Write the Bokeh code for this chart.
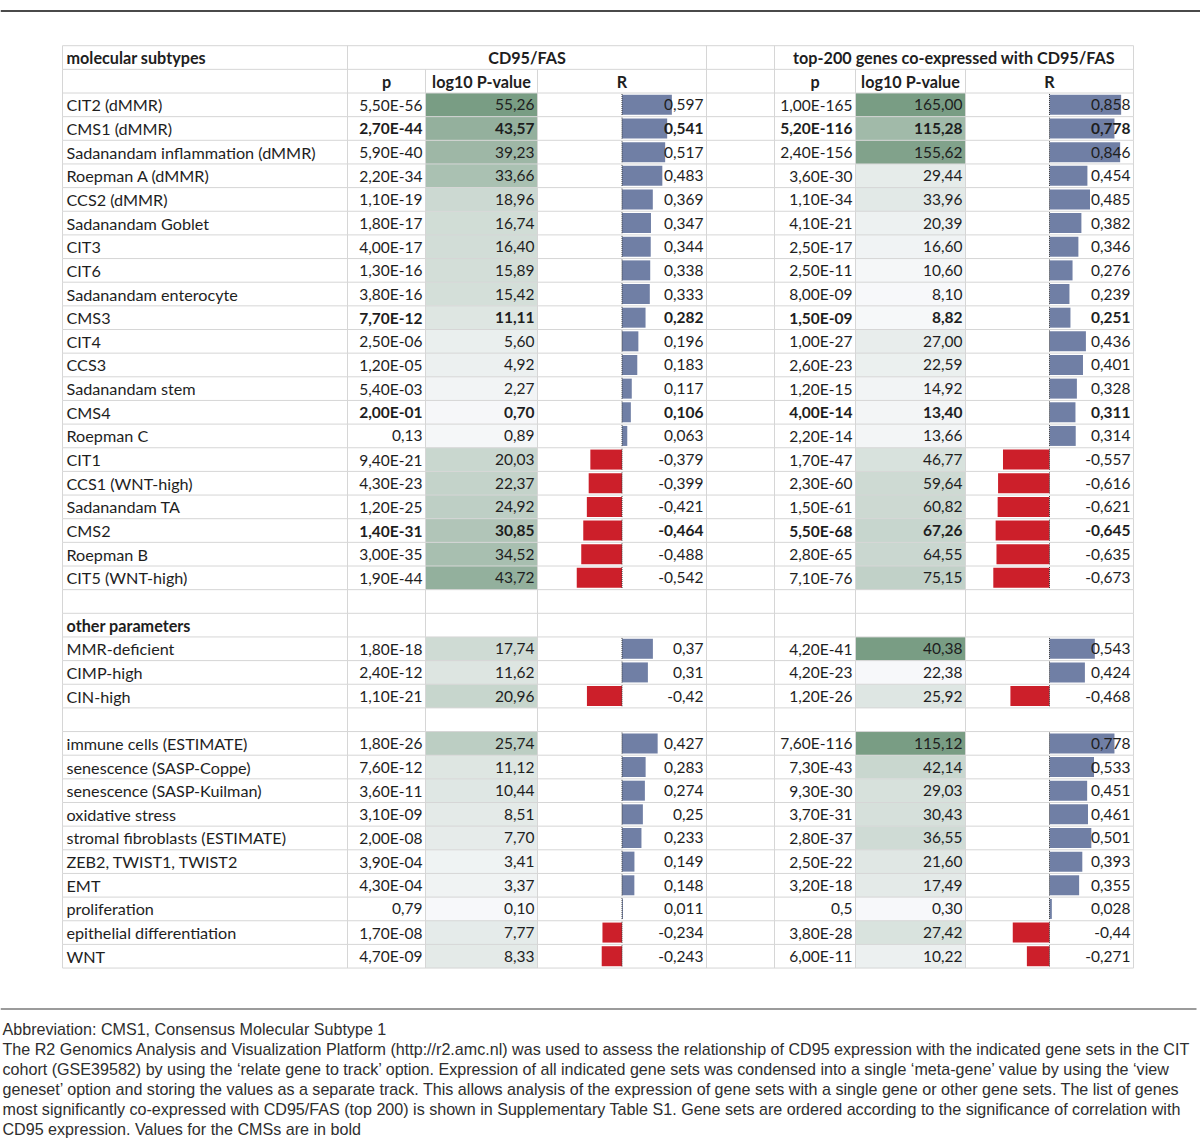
from bokeh.plotting import figure
from bokeh.models import Range1d, ColumnDataSource
from bokeh.embed import file_html
from bokeh.resources import INLINE
from bokeh.core.properties import value

# ---------------- data ----------------
subtypes = ["CIT2 (dMMR)", "CMS1 (dMMR)", "Sadanandam inflammation (dMMR)", "Roepman A (dMMR)",
            "CCS2 (dMMR)", "Sadanandam Goblet", "CIT3", "CIT6", "Sadanandam enterocyte", "CMS3",
            "CIT4", "CCS3", "Sadanandam stem", "CMS4", "Roepman C", "CIT1", "CCS1 (WNT-high)",
            "Sadanandam TA", "CMS2", "Roepman B", "CIT5 (WNT-high)"]
sub_cd95_p = ["5,50E-56", "2,70E-44", "5,90E-40", "2,20E-34", "1,10E-19", "1,80E-17", "4,00E-17",
              "1,30E-16", "3,80E-16", "7,70E-12", "2,50E-06", "1,20E-05", "5,40E-03", "2,00E-01",
              "0,13", "9,40E-21", "4,30E-23", "1,20E-25", "1,40E-31", "3,00E-35", "1,90E-44"]
sub_cd95_log = [55.26, 43.57, 39.23, 33.66, 18.96, 16.74, 16.40, 15.89, 15.42, 11.11, 5.60, 4.92,
                2.27, 0.70, 0.89, 20.03, 22.37, 24.92, 30.85, 34.52, 43.72]
sub_cd95_r = [0.597, 0.541, 0.517, 0.483, 0.369, 0.347, 0.344, 0.338, 0.333, 0.282, 0.196, 0.183,
              0.117, 0.106, 0.063, -0.379, -0.399, -0.421, -0.464, -0.488, -0.542]
sub_top_p = ["1,00E-165", "5,20E-116", "2,40E-156", "3,60E-30", "1,10E-34", "4,10E-21", "2,50E-17",
             "2,50E-11", "8,00E-09", "1,50E-09", "1,00E-27", "2,60E-23", "1,20E-15", "4,00E-14",
             "2,20E-14", "1,70E-47", "2,30E-60", "1,50E-61", "5,50E-68", "2,80E-65", "7,10E-76"]
sub_top_log = [165.00, 115.28, 155.62, 29.44, 33.96, 20.39, 16.60, 10.60, 8.10, 8.82, 27.00, 22.59,
               14.92, 13.40, 13.66, 46.77, 59.64, 60.82, 67.26, 64.55, 75.15]
sub_top_r = [0.858, 0.778, 0.846, 0.454, 0.485, 0.382, 0.346, 0.276, 0.239, 0.251, 0.436, 0.401,
             0.328, 0.311, 0.314, -0.557, -0.616, -0.621, -0.645, -0.635, -0.673]

other_title = "other parameters"
others = ["MMR-deficient", "CIMP-high", "CIN-high"]
oth_cd95_p = ["1,80E-18", "2,40E-12", "1,10E-21"]
oth_cd95_log = [17.74, 11.62, 20.96]
oth_cd95_r = [0.37, 0.31, -0.42]
oth_top_p = ["4,20E-41", "4,20E-23", "1,20E-26"]
oth_top_log = [40.38, 22.38, 25.92]
oth_top_r = [0.543, 0.424, -0.468]

genesets = ["immune cells (ESTIMATE)", "senescence (SASP-Coppe)", "senescence (SASP-Kuilman)",
            "oxidative stress", "stromal fibroblasts (ESTIMATE)", "ZEB2, TWIST1, TWIST2", "EMT",
            "proliferation", "epithelial differentiation", "WNT"]
gs_cd95_p = ["1,80E-26", "7,60E-12", "3,60E-11", "3,10E-09", "2,00E-08", "3,90E-04", "4,30E-04",
             "0,79", "1,70E-08", "4,70E-09"]
gs_cd95_log = [25.74, 11.12, 10.44, 8.51, 7.70, 3.41, 3.37, 0.10, 7.77, 8.33]
gs_cd95_r = [0.427, 0.283, 0.274, 0.25, 0.233, 0.149, 0.148, 0.011, -0.234, -0.243]
gs_top_p = ["7,60E-116", "7,30E-43", "9,30E-30", "3,70E-31", "2,80E-37", "2,50E-22", "3,20E-18",
            "0,5", "3,80E-28", "6,00E-11"]
gs_top_log = [115.12, 42.14, 29.03, 30.43, 36.55, 21.60, 17.49, 0.30, 27.42, 10.22]
gs_top_r = [0.778, 0.533, 0.451, 0.461, 0.501, 0.393, 0.355, 0.028, -0.44, -0.271]

bold_labels = ["CMS1 (dMMR)", "CMS3", "CMS4", "CMS2"]

header_first = "molecular subtypes"
group_titles = ["CD95/FAS", "top-200 genes co-expressed with CD95/FAS"]
sub_headers = ["p", "log10 P-value", "R"]

caption = [
    "Abbreviation: CMS1, Consensus Molecular Subtype 1",
    "The R2 Genomics Analysis and Visualization Platform (http://r2.amc.nl) was used to assess the relationship of CD95 expression with the indicated gene sets in the CIT",
    "cohort (GSE39582) by using the \u2018relate gene to track\u2019 option. Expression of all indicated gene sets was condensed into a single \u2018meta-gene\u2019 value by using the \u2018view",
    "geneset\u2019 option and storing the values as a separate track. This allows analysis of the expression of gene sets with a single gene or other gene sets. The list of genes",
    "most significantly co-expressed with CD95/FAS (top 200) is shown in Supplementary Table S1. Gene sets are ordered according to the significance of correlation with",
    "CD95 expression. Values for the CMSs are in bold",
]

# ---------------- layout ----------------
W, H = 1200, 1139
TOP = 45.2
RH = 23.65
COLS = [62, 347, 425, 537, 706, 774, 855, 965, 1133]
R_PX = 83.5
BAR_H = 20
FONT = "Lato"
FS_LAB = "16.2px"
FS_NUM = "15.5px"
TXT = "#1e1e1e"
GRID = "#d6d6d6"
LIGHT = (247, 248, 250)
DARK = (121, 157, 132)
POS = "#707fa5"
NEG = "#cc1f2a"

rows = [dict(kind="h1"), dict(kind="h2")]


def add_block(labels, cp, cl, cr, tp, tl, tr, sec):
    for i, lab in enumerate(labels):
        rows.append(dict(kind="data", label=lab, sec=sec, cd=(cp[i], cl[i], cr[i]), tp=(tp[i], tl[i], tr[i])))


add_block(subtypes, sub_cd95_p, sub_cd95_log, sub_cd95_r, sub_top_p, sub_top_log, sub_top_r, 0)
rows.append(dict(kind="blank"))
rows.append(dict(kind="section", label=other_title))
add_block(others, oth_cd95_p, oth_cd95_log, oth_cd95_r, oth_top_p, oth_top_log, oth_top_r, 1)
rows.append(dict(kind="blank"))
add_block(genesets, gs_cd95_p, gs_cd95_log, gs_cd95_r, gs_top_p, gs_top_log, gs_top_r, 2)

NR = len(rows)


def yc(i):
    return TOP + (i + 0.5) * RH


def lerp_col(t):
    t = max(0.0, min(1.0, t))
    c = [round(LIGHT[k] + t * (DARK[k] - LIGHT[k])) for k in range(3)]
    return "#%02x%02x%02x" % tuple(c)


# colour-scale ranges: CD95 column one scale, top-200 column per block
cd_vals = [r["cd"][1] for r in rows if r["kind"] == "data"]
cd_rng = (min(cd_vals), max(cd_vals))
tp_rng = {}
for s in (0, 1, 2):
    v = [r["tp"][1] for r in rows if r["kind"] == "data" and r["sec"] == s]
    tp_rng[s] = (min(v), max(v))

p = figure(width=W, height=H, x_range=Range1d(0, W), y_range=Range1d(H, 0),
           output_backend="svg", toolbar_location=None, min_border=0, outline_line_color=None,
           background_fill_color="white", border_fill_color="white")
p.axis.visible = False
p.grid.visible = False

# log10 cell fills
fill = dict(l=[], r=[], t=[], b=[], c=[])
for i, r in enumerate(rows):
    if r["kind"] != "data":
        continue
    for blk, (lo, hi), key in ((0, cd_rng, "cd"), (1, tp_rng[r["sec"]], "tp")):
        v = r[key][1]
        x0 = COLS[2] if blk == 0 else COLS[6]
        x1 = COLS[3] if blk == 0 else COLS[7]
        fill["l"].append(x0); fill["r"].append(x1)
        fill["t"].append(TOP + i * RH); fill["b"].append(TOP + (i + 1) * RH)
        fill["c"].append(lerp_col((v - lo) / (hi - lo)))
p.quad(left="l", right="r", top="t", bottom="b", fill_color="c", line_color=None,
       source=ColumnDataSource(fill))

# grid lines
gx0, gy0, gx1, gy1 = [], [], [], []
for i in range(NR + 1):
    gx0.append(COLS[0]); gx1.append(COLS[-1]); gy0.append(TOP + i * RH); gy1.append(TOP + i * RH)
for i in range(NR):
    for j, x in enumerate(COLS):
        if i == 0 and j in (2, 3, 6, 7):
            continue
        gx0.append(x); gx1.append(x); gy0.append(TOP + i * RH); gy1.append(TOP + (i + 1) * RH)
p.segment(x0=gx0, y0=gy0, x1=gx1, y1=gy1, line_color=GRID, line_width=1)

# data bars
zeros = [(COLS[3] + COLS[4]) / 2, (COLS[7] + COLS[8]) / 2]
bars = dict(y=[], left=[], right=[], c=[])
ax = dict(x0=[], y0=[], y1=[])
for i, r in enumerate(rows):
    if r["kind"] != "data":
        continue
    for z, key in ((zeros[0], "cd"), (zeros[1], "tp")):
        v = r[key][2]
        bars["y"].append(yc(i))
        bars["left"].append(min(z, z + v * R_PX))
        bars["right"].append(max(z, z + v * R_PX))
        bars["c"].append(POS if v >= 0 else NEG)
        ax["x0"].append(z); ax["y0"].append(TOP + i * RH + 1); ax["y1"].append(TOP + (i + 1) * RH - 1)
p.hbar(y="y", left="left", right="right", height=BAR_H, fill_color="c", line_color=None,
       source=ColumnDataSource(bars))
p.segment(x0="x0", y0="y0", x1="x0", y1="y1", line_color="#3a3a3a", line_width=1, line_dash="1 1",
          source=ColumnDataSource(ax))


# texts
def fmt_log(v):
    return ("%.2f" % v).replace(".", ",")


def fmt_r(v):
    return str(v).replace(".", ",")


txt = {k: dict(x=[], y=[], t=[]) for k in ("L", "LB", "R", "RB", "CB")}
for i, r in enumerate(rows):
    y = yc(i)
    if r["kind"] == "h1":
        txt["LB"]["x"].append(COLS[0] + 4); txt["LB"]["y"].append(y); txt["LB"]["t"].append(header_first)
        for g, (a, b) in enumerate(((COLS[1], COLS[4]), (COLS[5], COLS[8]))):
            txt["CB"]["x"].append((a + b) / 2); txt["CB"]["y"].append(y); txt["CB"]["t"].append(group_titles[g])
    elif r["kind"] == "h2":
        for base in (1, 5):
            for k in range(3):
                txt["CB"]["x"].append((COLS[base + k] + COLS[base + k + 1]) / 2)
                txt["CB"]["y"].append(y); txt["CB"]["t"].append(sub_headers[k])
    elif r["kind"] == "section":
        txt["LB"]["x"].append(COLS[0] + 4); txt["LB"]["y"].append(y); txt["LB"]["t"].append(r["label"])
    elif r["kind"] == "data":
        txt["L"]["x"].append(COLS[0] + 4); txt["L"]["y"].append(y); txt["L"]["t"].append(r["label"])
        key = "RB" if r["label"] in bold_labels else "R"
        for base, d in ((1, r["cd"]), (5, r["tp"])):
            vals = [d[0], fmt_log(d[1]), fmt_r(d[2])]
            for k in range(3):
                txt[key]["x"].append(COLS[base + k + 1] - 3); txt[key]["y"].append(y); txt[key]["t"].append(vals[k])

styles = {"L": ("left", "normal", FS_LAB), "LB": ("left", "bold", FS_LAB), "R": ("right", "normal", FS_NUM),
          "RB": ("right", "bold", FS_NUM), "CB": ("center", "bold", FS_LAB)}
for k, (al, st, fs) in styles.items():
    p.text(x="x", y="y", text="t", source=ColumnDataSource(txt[k]), text_font=value(FONT),
           text_font_size=value(fs), text_align=al, text_baseline="middle", text_color=TXT,
           text_font_style=st)

# rules
p.segment(x0=[0, 0], y0=[10.5, 1008.5], x1=[1200, 1196], y1=[10.5, 1008.5],
          line_color=["#4a4a4a", "#7a7a7a"], line_width=[2, 1.5])

# caption
cap_y = [1028 + 20.0 * k for k in range(len(caption))]
p.text(x=[2] * len(caption), y=cap_y, text=caption, text_font=value("Liberation Sans"),
       text_font_size=value("16.1px"), text_align="left", text_baseline="middle", text_color="#2e2e2e")

open("out.html", "w").write(file_html(p, INLINE))
